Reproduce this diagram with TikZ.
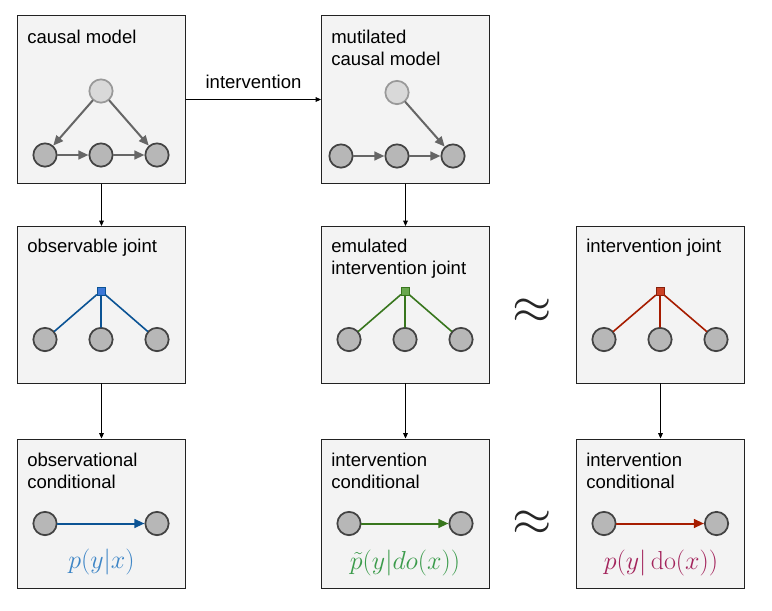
\RequirePackage{fix-cm}
\documentclass[tikz,border=0pt]{standalone}
\usepackage{amsmath}
\usepackage[no-math]{fontspec}
\setmainfont{Liberation Sans}
\usetikzlibrary{arrows.meta}

\definecolor{boxfill}{HTML}{F3F3F3}
\definecolor{boxedge}{HTML}{222222}
\definecolor{nodefill}{HTML}{B7B7B7}
\definecolor{nodeedge}{HTML}{434343}
\definecolor{hidfill}{HTML}{D9D9D9}
\definecolor{hidedge}{HTML}{999999}
\definecolor{edgegray}{HTML}{666666}
\definecolor{obsline}{HTML}{0B5394}
\definecolor{obsfill}{HTML}{3C78D8}
\definecolor{obstext}{HTML}{3D85C6}
\definecolor{emline}{HTML}{38761D}
\definecolor{emfill}{HTML}{6AA84F}
\definecolor{emtext}{HTML}{3B9B4B}
\definecolor{intline}{HTML}{A61C00}
\definecolor{intfill}{HTML}{CC4125}
\definecolor{intedge}{HTML}{85200C}
\definecolor{inttext}{HTML}{A3245C}

\tikzset{
  panel/.style={draw=boxedge, fill=boxfill, line width=0.75pt, inner sep=0pt, minimum width=126pt},
  title/.style={anchor=base west, inner sep=0pt, align=left, font=\fontsize{13.9}{16.5}\selectfont},
  var/.style={circle, draw=nodeedge, fill=nodefill, line width=1.3pt, minimum size=17.5pt, inner sep=0pt},
  hidden/.style={var, draw=hidedge, fill=hidfill},
  fac/.style={rectangle, minimum size=6pt, inner sep=0pt, line width=0.6pt},
  conn/.style={-{Triangle[length=4pt,width=3.5pt]}, line width=0.6pt, draw=black},
  edge/.style={-{Triangle[length=7.5pt,width=6.5pt]}, line width=1.5pt},
  prob/.style={anchor=base, inner sep=0pt, font=\fontsize{19.5}{22}\selectfont},
  approxsym/.style={inner sep=0pt, text=black!85, font=\fontsize{38}{40}\selectfont},
}

\begin{document}
\begin{tikzpicture}[x=0.75pt,y=-0.75pt,line cap=round]
  \useasboundingbox (0,0) rectangle (772,611);

  % panels
  \node[panel, minimum height=126pt] (causal) at (101.5,99.5) {};
  \node[panel, minimum height=126pt] (mutil) at (405.5,99.5) {};
  \node[panel, minimum height=117.4pt] (obsjoint) at (101.5,304.75) {};
  \node[panel, minimum height=117.4pt] (emjoint) at (405.5,304.75) {};
  \node[panel, minimum height=117.4pt] (intjoint) at (660.5,304.75) {};
  \node[panel, minimum height=111.75pt] (obscond) at (101.5,513.5) {};
  \node[panel, minimum height=111.75pt] (emcond) at (405.5,513.5) {};
  \node[panel, minimum height=111.75pt] (intcond) at (660.5,513.5) {};

  % titles (base = last line)
  \node[title] (tcausal) at (27,43) {causal model};
  \node[title] (tmutil) at (331,65.5) {mutilated\\causal model};
  \node[title] (tobsj) at (27,252.5) {observable joint};
  \node[title] (temj) at (331,274.5) {emulated\\intervention joint};
  \node[title] (tintj) at (586,252.5) {intervention joint};
  \node[title] (tobsc) at (27,488) {observational\\conditional};
  \node[title] (temc) at (331,488) {intervention\\conditional};
  \node[title] (tintc) at (586,488) {intervention\\conditional};

  % causal model
  \node[hidden] (cu) at (101,91) {};
  \node[var] (ca) at (45,155) {};
  \node[var] (cb) at (101,155) {};
  \node[var] (cc) at (157,155) {};
  \draw[edge, draw=edgegray, fill=edgegray] (cu) -- (ca);
  \draw[edge, draw=edgegray, fill=edgegray] (cu) -- (cc);
  \draw[edge, draw=edgegray, fill=edgegray] (ca) -- (cb);
  \draw[edge, draw=edgegray, fill=edgegray] (cb) -- (cc);

  % mutilated causal model
  \node[hidden] (mu) at (397,92.5) {};
  \node[var] (ma) at (341,156) {};
  \node[var] (mb) at (397,156) {};
  \node[var] (mc) at (453,156) {};
  \draw[edge, draw=edgegray, fill=edgegray] (mu) -- (mc);
  \draw[edge, draw=edgegray, fill=edgegray] (ma) -- (mb);
  \draw[edge, draw=edgegray, fill=edgegray] (mb) -- (mc);

  % observable joint
  \node[fac, draw=obsline, fill=obsfill] (of) at (101,291) {};
  \node[var] (oa) at (45,339.5) {};
  \node[var] (ob) at (101,339.5) {};
  \node[var] (oc) at (157,339.5) {};
  \draw[obsline, line width=1.2pt] (of) -- (oa) (of) -- (ob) (of) -- (oc);

  % emulated intervention joint
  \node[fac, draw=emline, fill=emfill] (ef) at (405,291) {};
  \node[var] (ea) at (349,339.5) {};
  \node[var] (eb) at (405,339.5) {};
  \node[var] (ec) at (461,339.5) {};
  \draw[emline, line width=1.2pt] (ef) -- (ea) (ef) -- (eb) (ef) -- (ec);

  % intervention joint
  \node[fac, draw=intedge, fill=intfill] (if) at (660,291.5) {};
  \node[var] (ia) at (604,339.5) {};
  \node[var] (ib) at (660,339.5) {};
  \node[var] (ic) at (716,339.5) {};
  \draw[intline, line width=1.2pt] (if) -- (ia) (if) -- (ib) (if) -- (ic);

  % conditionals
  \node[var] (ox) at (45,523.5) {};
  \node[var] (oy) at (157,523.5) {};
  \draw[edge, draw=obsline, fill=obsline] (ox) -- (oy);
  \node[prob, text=obstext] (pobs) at (101.5,568) {$p(y|x)$};

  \node[var] (ex) at (349,523.5) {};
  \node[var] (ey) at (461,523.5) {};
  \draw[edge, draw=emline, fill=emline] (ex) -- (ey);
  \node[prob, text=emtext] (pem) at (405,569) {$\tilde{p}(y|do(x))$};

  \node[var] (ix) at (604,523.5) {};
  \node[var] (iy) at (716.5,523.5) {};
  \draw[edge, draw=intline, fill=intline] (ix) -- (iy);
  \node[prob, text=inttext] (pint) at (661,569) {$p(y|\operatorname{do}(x))$};

  % approx signs
  \node[approxsym] (apj) at (532,311) {$\approx$};
  \node[approxsym] (apc) at (532,523) {$\approx$};

  % connectors
  \draw[conn] (causal) -- node[above=7.5pt, inner sep=0pt, font=\fontsize{13.9}{16.5}\selectfont] (lint) {intervention} (mutil);
  \draw[conn] (causal.south) -- (obsjoint.north);
  \draw[conn] (obsjoint.south) -- (obscond.north);
  \draw[conn] (mutil.south) -- (emjoint.north);
  \draw[conn] (emjoint.south) -- (emcond.north);
  \draw[conn] (intjoint.south) -- (intcond.north);
\end{tikzpicture}
\end{document}
